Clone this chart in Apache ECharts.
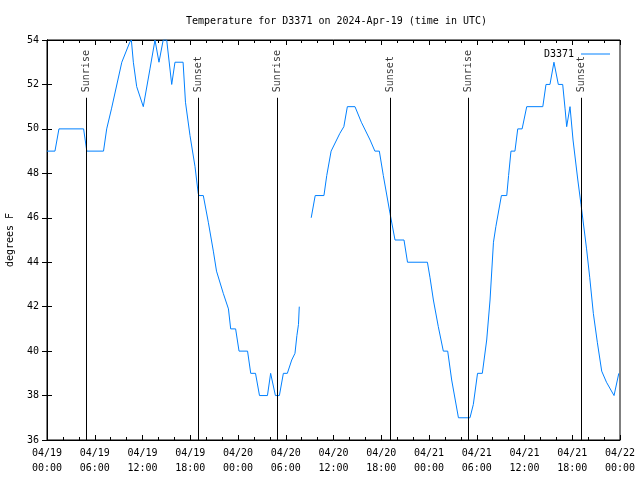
<!DOCTYPE html>
<html>
<head>
<meta charset="utf-8">
<script src="https://cdn.jsdelivr.net/npm/echarts@6/dist/echarts.min.js"></script>
<style>
html,body{margin:0;padding:0;background:#fff;}
#chart{width:640px;height:480px;}
</style>
</head>
<body>
<div id="chart"></div>
<script>
// Hours since 2024-04-19 00:00 UTC
const hours = [0,1.0,1.5,4.6,5.0,7.1,7.5,8.1,9.4,10.4,10.6,10.85,11.27,12.1,12.94,13.57,13.75,14.07,14.6,15.04,15.67,16.08,17.1,17.4,17.97,18.6,19.0,19.1,19.64,20.27,20.9,21.3,22.15,22.8,23.08,23.7,24.13,25.2,25.6,26.2,26.7,27.7,28.1,28.7,29.2,29.7,30.2,30.75,31.16,31.4,31.6,31.7,
  32.5,
  33.2,33.7,34.8,35.15,35.7,36.8,37.3,37.74,38.7,39.5,40.6,41.2,41.76,42.26,43.1,43.73,44.86,45.3,47.8,48.13,48.55,49.17,49.8,50.35,50.85,51.7,53.15,53.57,54.1,54.7,55.25,55.67,56.1,56.4,57.1,57.77,58.0,58.3,58.8,59.15,59.7,60.28,62.3,62.7,63.2,63.7,64.25,64.8,65.1,65.3,65.72,66.1,66.7,67.1,67.8,68.2,68.65,69.15,69.7,70.3,71.25,71.85];
const temps = [49,49,50,50,49,49,50,50.9,53,53.9,54,53,51.9,51,52.7,54,54,53,54,54,52,53,53,51.2,49.7,48.3,47.1,47,47,45.8,44.5,43.6,42.6,41.9,41,41,40,40,39,39,38,38,39,38,38,39,39,39.6,39.9,40.7,41.2,42,
  null,
  46,47,47,47.9,49,49.8,50.1,51,51,50.3,49.5,49,49,47.9,46.2,45,45,44,44,43.3,42.3,41.1,40,40,38.7,37,37,37.6,39,39,40.5,42.3,44.9,45.6,47,47,47.9,49,49,50,50,51,51,52,52,53,52,52,50.9,50.1,51,49.5,47.7,46.6,44.6,43.3,41.7,40.4,39.1,38.6,38,39];

const sunEventHours = [4.93, 19.0, 28.93, 43.14, 52.95, 67.14];
const sunEventNames = ["Sunrise","Sunset","Sunrise","Sunset","Sunrise","Sunset"];
const sunLineTop = 51.4;
const sunLabelY = 51.65;

const xTickLabels = ["04/19\n00:00","04/19\n06:00","04/19\n12:00","04/19\n18:00","04/20\n00:00","04/20\n06:00","04/20\n12:00","04/20\n18:00","04/21\n00:00","04/21\n06:00","04/21\n12:00","04/21\n18:00","04/22\n00:00"];

const seriesName = "D3371";
const titleText = "Temperature for D3371 on 2024-Apr-19 (time in UTC)";
const yName = "degrees F";

const FONT = "DejaVu Sans Mono";
const lineData = hours.map((h,i)=>[h,temps[i]]);
const markLines = sunEventHours.map(h=>[{coord:[h,36]},{coord:[h,sunLineTop]}]);
const labelData = sunEventHours.map((h,i)=>({value:[h,sunLabelY], name:sunEventNames[i]}));

const chart = echarts.init(document.getElementById('chart'), null, {renderer:'canvas'});
const baseX = {
  type:'value', min:0, max:72, interval:6,
  axisLine:{show:true, lineStyle:{color:'#000', width:1}},
  axisTick:{show:true, inside:true, length:5, lineStyle:{color:'#000'}},
  minorTick:{show:true, splitNumber:3, length:3, lineStyle:{color:'#000'}},
  splitLine:{show:false}, minorSplitLine:{show:false}
};
const baseY = {
  type:'value', min:36, max:54, interval:2,
  axisLine:{show:true, lineStyle:{color:'#000', width:1}},
  axisTick:{show:true, inside:true, length:5, lineStyle:{color:'#000'}},
  splitLine:{show:false}
};
chart.setOption({
  animation:false,
  backgroundColor:'#fff',
  textStyle:{fontFamily:FONT},
  title:{text:titleText, left:181, top:11, textStyle:{fontFamily:FONT, fontSize:10, fontWeight:'normal', color:'#000'}},
  legend:{
    data:[{name:seriesName, icon:'rect'}],
    right:25, top:44, align:'right', itemWidth:29, itemHeight:1, itemGap:0,
    textStyle:{fontFamily:FONT, fontSize:10, color:'#000', padding:[0,2,0,0]}
  },
  grid:{left:47, right:20, top:40, bottom:40, show:true, borderColor:'#000', borderWidth:1,
    containLabel:false, outerBoundsMode:'none'},
  xAxis:[
    Object.assign({}, baseX, {position:'bottom',
      axisLabel:{show:true, margin:6, color:'#000', fontFamily:FONT, fontSize:10, lineHeight:15,
        hideOverlap:false, showMinLabel:true, showMaxLabel:true,
        formatter:(v)=>{const i=Math.round(v/6); return xTickLabels[i]||'';}}}),
    Object.assign({}, baseX, {position:'top', axisLabel:{show:false}})
  ],
  yAxis:[
    Object.assign({}, baseY, {position:'left',
      name:yName, nameLocation:'middle', nameRotate:90, nameGap:32,
      nameTextStyle:{fontFamily:FONT, fontSize:10, color:'#000'},
      axisLabel:{show:true, margin:8, color:'#000', fontFamily:FONT, fontSize:10}}),
    Object.assign({}, baseY, {position:'right', axisLabel:{show:false}})
  ],
  series:[
    {
      name:seriesName, type:'line', data:lineData, showSymbol:false, symbol:'none',
      connectNulls:false, clip:true,
      lineStyle:{color:'#0080ff', width:1}, itemStyle:{color:'#0080ff'},
      z:3,
      markLine:{silent:true, symbol:['none','none'], label:{show:false},
        lineStyle:{color:'#000', width:1, type:'solid'}, data:markLines, animation:false}
    },
    {
      name:'sunlabels', type:'scatter', data:labelData, symbolSize:0, silent:true,
      label:{show:true, position:'inside', rotate:90, align:'left', verticalAlign:'middle',
        formatter:(p)=>p.name, color:'#000', fontFamily:FONT, fontSize:10}
    }
  ]
});
</script>
</body>
</html>
